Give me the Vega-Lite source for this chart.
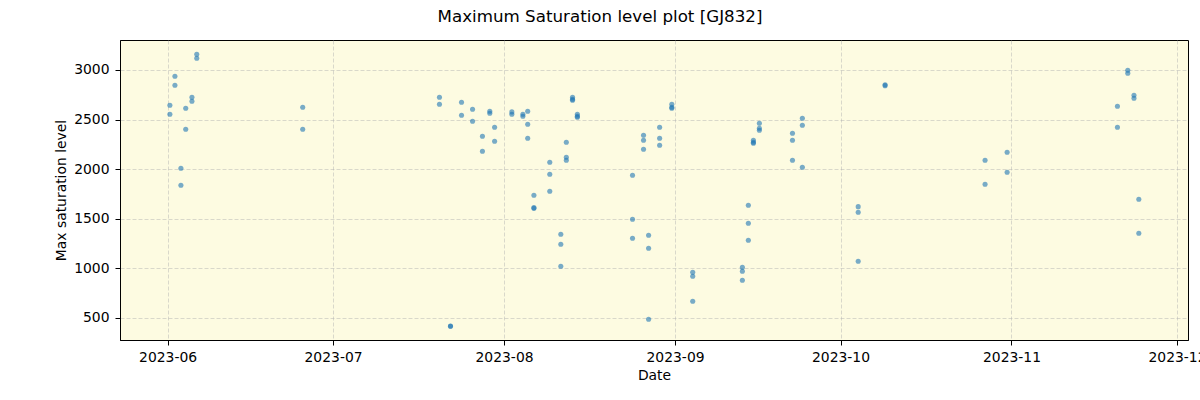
{
  "$schema": "https://vega.github.io/schema/vega-lite/v6.json",
  "width": 1068,
  "height": 300,
  "autosize": "none",
  "padding": {"left": 120, "top": 40, "right": 12, "bottom": 60},
  "background": "white",
  "title": {"text": "Maximum Saturation level plot [GJ832]", "font": "DejaVu Sans", "fontSize": 16.7, "fontWeight": "normal", "color": "black", "anchor": "middle", "dx": -54, "offset": 14},
  "config": {
    "view": {"stroke": "black", "strokeWidth": 1, "fill": "#fdfbe1"},
    "axis": {"labelFont": "DejaVu Sans", "labelFontSize": 13.9, "labelColor": "black", "titleFont": "DejaVu Sans", "titleFontSize": 13.9, "titleFontWeight": "normal", "titleColor": "black", "domainColor": "black", "tickColor": "black", "tickSize": 5, "labelPadding": 5, "gridColor": "#b0b0b0", "gridOpacity": 0.6, "gridDash": [4, 2], "gridWidth": 0.8}
  },
  "data": {"values": [
    {"date": "2023-06-01T10:00", "value": 2644},
    {"date": "2023-06-01T10:00", "value": 2553},
    {"date": "2023-06-02T08:00", "value": 2936},
    {"date": "2023-06-02T08:00", "value": 2846},
    {"date": "2023-06-03T10:00", "value": 2009},
    {"date": "2023-06-03T10:00", "value": 1838},
    {"date": "2023-06-04T07:00", "value": 2614},
    {"date": "2023-06-04T07:00", "value": 2402},
    {"date": "2023-06-05T10:00", "value": 2725},
    {"date": "2023-06-05T10:00", "value": 2685},
    {"date": "2023-06-06T07:00", "value": 3158},
    {"date": "2023-06-06T07:00", "value": 3118},
    {"date": "2023-06-25T12:00", "value": 2624},
    {"date": "2023-06-25T12:00", "value": 2402},
    {"date": "2023-07-20T07:00", "value": 2725},
    {"date": "2023-07-20T07:00", "value": 2654},
    {"date": "2023-07-22T07:00", "value": 416},
    {"date": "2023-07-22T07:00", "value": 418},
    {"date": "2023-07-24T07:00", "value": 2674},
    {"date": "2023-07-24T07:00", "value": 2543},
    {"date": "2023-07-26T07:00", "value": 2604},
    {"date": "2023-07-26T07:00", "value": 2483},
    {"date": "2023-07-28T02:00", "value": 2332},
    {"date": "2023-07-28T02:00", "value": 2180},
    {"date": "2023-07-29T10:00", "value": 2584},
    {"date": "2023-07-29T10:00", "value": 2563},
    {"date": "2023-07-30T07:00", "value": 2422},
    {"date": "2023-07-30T07:00", "value": 2281},
    {"date": "2023-08-02T10:00", "value": 2577},
    {"date": "2023-08-02T10:00", "value": 2553},
    {"date": "2023-08-04T10:00", "value": 2553},
    {"date": "2023-08-04T10:00", "value": 2533},
    {"date": "2023-08-05T07:00", "value": 2584},
    {"date": "2023-08-05T07:00", "value": 2453},
    {"date": "2023-08-05T07:00", "value": 2311},
    {"date": "2023-08-06T10:00", "value": 1737},
    {"date": "2023-08-06T10:00", "value": 1612},
    {"date": "2023-08-06T10:00", "value": 1605},
    {"date": "2023-08-09T07:00", "value": 2070},
    {"date": "2023-08-09T07:00", "value": 1949},
    {"date": "2023-08-09T07:00", "value": 1778},
    {"date": "2023-08-11T07:00", "value": 1344},
    {"date": "2023-08-11T07:00", "value": 1243},
    {"date": "2023-08-11T07:00", "value": 1021},
    {"date": "2023-08-12T07:00", "value": 2271},
    {"date": "2023-08-12T07:00", "value": 2120},
    {"date": "2023-08-12T07:00", "value": 2090},
    {"date": "2023-08-13T10:00", "value": 2725},
    {"date": "2023-08-13T10:00", "value": 2705},
    {"date": "2023-08-13T10:00", "value": 2695},
    {"date": "2023-08-14T07:00", "value": 2553},
    {"date": "2023-08-14T07:00", "value": 2533},
    {"date": "2023-08-14T07:00", "value": 2523},
    {"date": "2023-08-24T07:00", "value": 1938},
    {"date": "2023-08-24T07:00", "value": 1495},
    {"date": "2023-08-24T07:00", "value": 1303},
    {"date": "2023-08-26T07:00", "value": 2342},
    {"date": "2023-08-26T07:00", "value": 2291},
    {"date": "2023-08-26T07:00", "value": 2201},
    {"date": "2023-08-27T05:00", "value": 1334},
    {"date": "2023-08-27T05:00", "value": 1203},
    {"date": "2023-08-27T05:00", "value": 487},
    {"date": "2023-08-29T05:00", "value": 2422},
    {"date": "2023-08-29T05:00", "value": 2311},
    {"date": "2023-08-29T05:00", "value": 2241},
    {"date": "2023-08-31T10:00", "value": 2654},
    {"date": "2023-08-31T10:00", "value": 2614},
    {"date": "2023-08-31T10:00", "value": 2624},
    {"date": "2023-09-04T05:00", "value": 961},
    {"date": "2023-09-04T05:00", "value": 921},
    {"date": "2023-09-04T05:00", "value": 668},
    {"date": "2023-09-13T05:00", "value": 1011},
    {"date": "2023-09-13T05:00", "value": 971},
    {"date": "2023-09-13T05:00", "value": 880},
    {"date": "2023-09-14T07:00", "value": 1636},
    {"date": "2023-09-14T07:00", "value": 1455},
    {"date": "2023-09-14T07:00", "value": 1284},
    {"date": "2023-09-15T05:00", "value": 2291},
    {"date": "2023-09-15T05:00", "value": 2261},
    {"date": "2023-09-15T05:00", "value": 2271},
    {"date": "2023-09-16T07:00", "value": 2463},
    {"date": "2023-09-16T07:00", "value": 2412},
    {"date": "2023-09-16T07:00", "value": 2392},
    {"date": "2023-09-22T07:00", "value": 2362},
    {"date": "2023-09-22T07:00", "value": 2291},
    {"date": "2023-09-22T07:00", "value": 2090},
    {"date": "2023-09-24T02:00", "value": 2513},
    {"date": "2023-09-24T02:00", "value": 2443},
    {"date": "2023-09-24T02:00", "value": 2019},
    {"date": "2023-10-04T05:00", "value": 1622},
    {"date": "2023-10-04T05:00", "value": 1566},
    {"date": "2023-10-04T05:00", "value": 1072},
    {"date": "2023-10-09T02:00", "value": 2842},
    {"date": "2023-10-09T02:00", "value": 2850},
    {"date": "2023-10-27T05:00", "value": 2090},
    {"date": "2023-10-27T05:00", "value": 1848},
    {"date": "2023-10-31T05:00", "value": 2170},
    {"date": "2023-10-31T05:00", "value": 1969},
    {"date": "2023-11-20T05:00", "value": 2634},
    {"date": "2023-11-20T05:00", "value": 2422},
    {"date": "2023-11-22T02:00", "value": 2997},
    {"date": "2023-11-22T02:00", "value": 2967},
    {"date": "2023-11-23T05:00", "value": 2745},
    {"date": "2023-11-23T05:00", "value": 2715},
    {"date": "2023-11-24T02:00", "value": 1697},
    {"date": "2023-11-24T02:00", "value": 1354}
  ]},
  "mark": {"type": "point", "filled": true, "size": 26, "color": "#1f77b4", "opacity": 0.6},
  "encoding": {
    "x": {"field": "date", "type": "temporal", "title": "Date",
      "scale": {"domain": [{"year": 2023, "month": 5, "date": 23, "hours": 9}, {"year": 2023, "month": 12, "date": 3}], "nice": false},
      "axis": {"format": "%Y-%m", "tickCount": {"interval": "month", "step": 1}, "labelAngle": 0, "titlePadding": 5, "labelFlush": false, "labelOverlap": false}},
    "y": {"field": "value", "type": "quantitative", "title": "Max saturation level",
      "scale": {"domain": [278, 3302], "nice": false, "zero": false},
      "axis": {"values": [500, 1000, 1500, 2000, 2500, 3000], "format": "d", "labelPadding": 6, "titlePadding": 5}}
  }
}
